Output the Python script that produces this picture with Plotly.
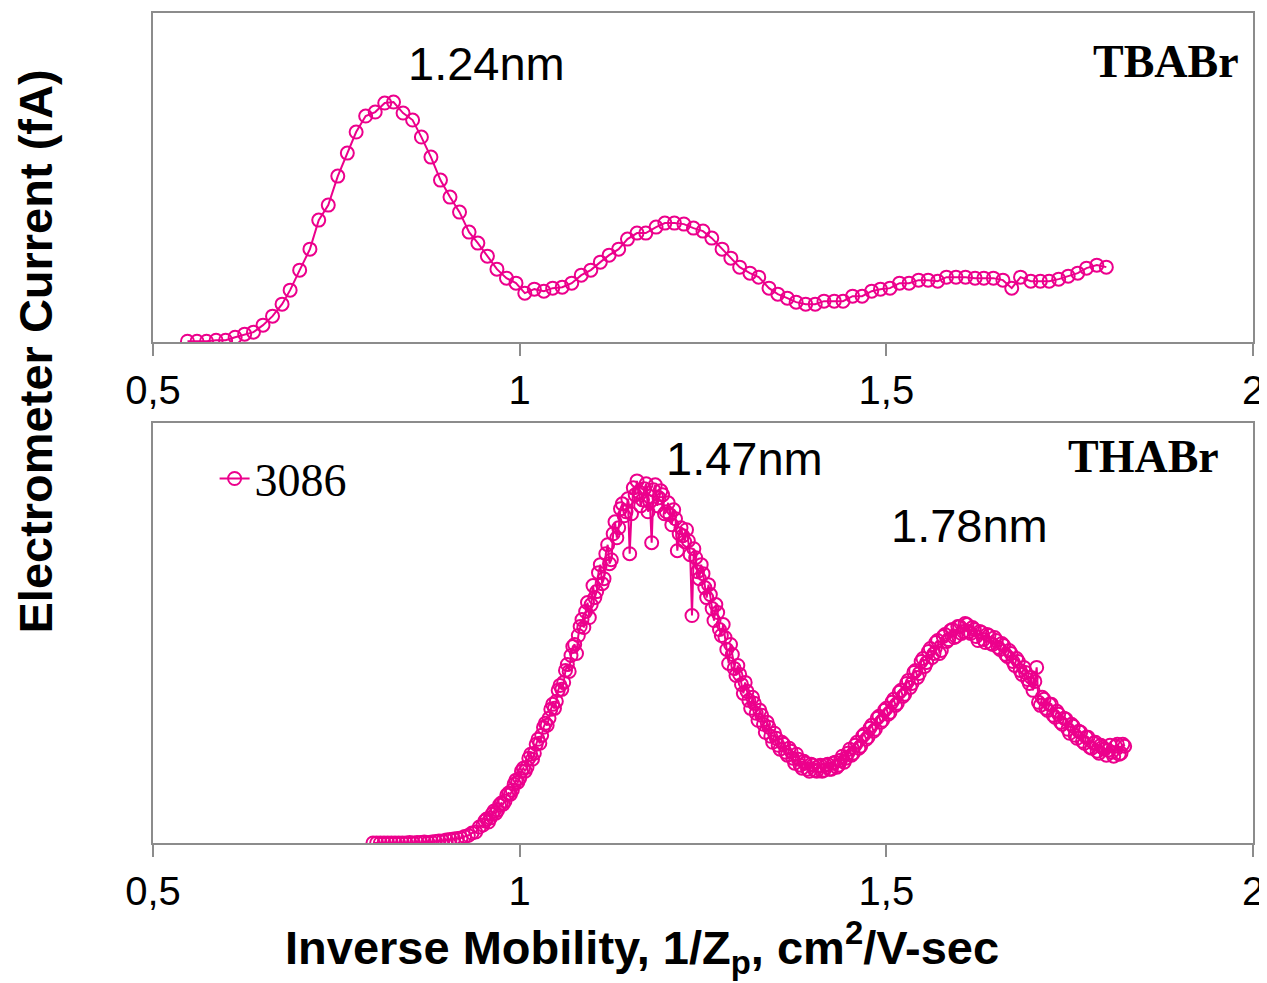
import plotly.graph_objects as go

# ---------------- data ----------------
# Top panel (TBABr)
top_x = [0.547,0.560,0.573,0.586,0.599,0.612,0.625,0.637,0.650,0.663,
         0.676,0.687,0.700,0.714,0.726,0.739,0.752,0.765,0.777,0.790,
         0.803,0.816,0.828,0.841,0.854,0.866,0.879,0.892,0.905,0.918,
         0.931,0.943,0.956,0.969,0.982,0.995,1.007,1.020,1.033,1.045,
         1.058,1.071,1.084,1.097,1.110,1.122,1.135,1.147,1.160,1.172,
         1.186,1.198,1.211,1.224,1.237,1.250,1.262,1.276,1.288,1.300,
         1.314,1.326,1.340,1.352,1.365,1.377,1.390,1.403,1.415,1.429,
         1.441,1.454,1.467,1.480,1.492,1.505,1.518,1.531,1.544,1.557,
         1.570,1.582,1.595,1.608,1.621,1.633,1.646,1.659,1.671,1.683,
         1.697,1.710,1.722,1.735,1.748,1.761,1.773,1.787,1.800]
top_y = [0.1,0.1,0.1,0.2,0.2,0.5,0.8,1.0,1.7,2.6,
         3.8,5.2,7.2,9.3,12.2,13.7,16.6,18.9,21.0,22.6,
         23.0,23.9,24.0,22.9,22.2,20.5,18.5,16.2,14.5,13.0,
         11.0,9.9,8.6,7.3,6.4,5.9,4.9,5.3,5.1,5.4,
         5.5,5.9,6.7,7.2,8.0,8.7,9.3,10.3,10.9,10.9,
         11.5,11.9,11.9,11.8,11.4,11.1,10.4,9.3,8.4,7.5,
         6.9,6.5,5.4,4.8,4.4,4.0,3.8,3.8,4.1,4.1,
         4.1,4.6,4.6,5.1,5.3,5.4,5.9,5.9,6.2,6.2,
         6.1,6.5,6.5,6.5,6.4,6.4,6.4,6.2,5.4,6.5,
         6.1,6.1,6.1,6.3,6.6,6.9,7.4,7.7,7.5]

# Bottom panel (THABr), series "3086" - scan points
bot_x = [0.800,0.805,0.810,0.815,0.820,0.825,0.830,0.835,0.840,0.845,
         0.850,0.855,0.860,0.865,0.870,0.875,0.880,0.885,0.890,0.895,
         0.900,0.905,0.910,0.915,0.920,0.925,0.930,0.935,0.940,0.945,
         0.950,0.955,0.960,0.965,0.970,0.975,0.980,0.985,0.990,0.995,
         1.000,1.005,1.010,1.015,1.020,1.025,1.030,1.035,1.040,1.045,
         1.050,1.055,1.060,1.065,1.070,1.075,1.080,1.085,1.090,1.095,
         1.100,1.105,1.110,1.115,1.120,1.125,1.130,1.135,1.140,1.145,
         1.150,1.155,1.160,1.165,1.170,1.175,1.180,1.185,1.190,1.195,
         1.200,1.205,1.210,1.215,1.220,1.225,1.230,1.235,1.240,1.245,
         1.250,1.255,1.260,1.265,1.270,1.275,1.280,1.285,1.290,1.295,
         1.300,1.305,1.310,1.315,1.320,1.325,1.330,1.335,1.340,1.345,
         1.350,1.355,1.360,1.365,1.370,1.375,1.380,1.385,1.390,1.395,
         1.400,1.405,1.410,1.415,1.420,1.425,1.430,1.435,1.440,1.445,
         1.450,1.455,1.460,1.465,1.470,1.475,1.480,1.485,1.490,1.495,
         1.500,1.505,1.510,1.515,1.520,1.525,1.530,1.535,1.540,1.545,
         1.550,1.555,1.560,1.565,1.570,1.575,1.580,1.585,1.590,1.595,
         1.600,1.605,1.610,1.615,1.620,1.625,1.630,1.635,1.640,1.645,
         1.650,1.655,1.660,1.665,1.670,1.675,1.680,1.685,1.690,1.695,
         1.700,1.705,1.710,1.715,1.720,1.725,1.730,1.735,1.740,1.745,
         1.750,1.755,1.760,1.765,1.770,1.775,1.780,1.785,1.790,1.795,
         1.800,1.805,1.810,1.815,1.820,1.825]
bot_y = [0.0,0.0,0.0,0.0,0.0,0.0,0.0,0.0,0.0,0.0,
         0.05,0.0,0.05,0.05,0.1,0.05,0.1,0.15,0.2,0.2,
         0.3,0.35,0.4,0.45,0.5,0.65,0.75,1.0,1.1,1.6,
         1.8,2.4,2.5,3.2,3.3,4.0,4.2,5.0,5.3,6.3,
         6.5,7.5,7.6,8.9,9.0,10.4,10.8,12.0,12.5,13.9,
         14.2,15.8,16.1,17.9,18.8,19.9,20.8,22.4,23.2,22.6,
         25.8,25.2,27.9,26.5,29.9,28.4,32.2,31.6,34.0,33.2,
         29.0,35.6,36.3,33.8,35.5,33.2,30.1,35.9,34.6,34.9,
         33.2,32.9,33.4,29.3,31.6,30.2,30.3,22.8,28.6,26.5,
         27.0,24.6,24.9,22.3,23.1,20.8,20.6,18.0,18.9,16.8,
         16.9,15.0,15.2,13.5,14.0,12.3,12.8,11.1,11.6,10.1,
         10.5,9.4,9.9,8.8,9.2,8.0,8.4,7.5,8.0,7.2,
         7.8,7.2,7.8,7.3,7.9,7.4,8.1,7.8,8.7,8.5,
         9.4,9.0,10.1,9.7,10.9,10.6,11.8,11.4,12.7,12.3,
         13.5,13.1,14.4,14.0,15.3,14.9,16.3,16.0,17.3,17.0,
         18.5,18.1,19.5,19.0,20.3,19.3,20.9,20.4,21.4,20.7,
         21.7,21.2,21.9,21.0,21.4,20.3,21.1,20.1,20.8,19.9,
         20.3,19.4,19.8,18.7,19.0,17.8,18.2,16.9,17.1,16.0,
         15.3,17.6,13.8,14.4,13.3,13.9,12.6,12.9,11.9,12.4,
         11.0,11.7,10.5,11.1,10.0,10.6,9.5,10.1,9.0,9.6,
         8.8,9.8,8.7,9.9,9.0,9.7]

# Bottom panel, interleaved scan points (half-step positions)
bot_mid_x = [0.9525,0.9575,0.9625,0.9675,0.9725,0.9775,0.9825,0.9875,0.9925,0.9975,
             1.0025,1.0075,1.0125,1.0175,1.0225,1.0275,1.0325,1.0375,1.0425,1.0475,
             1.0525,1.0575,1.0625,1.0675,1.0725,1.0775,1.0825,1.0875,1.0925,1.0975,
             1.1025,1.1075,1.1125,1.1175,1.1225,1.1275,1.1325,1.1375,1.1425,1.1475,
             1.1525,1.1575,1.1625,1.1675,1.1725,1.1775,1.1825,1.1875,1.1925,1.1975,
             1.2025,1.2075,1.2125,1.2175,1.2225,1.2275,1.2325,1.2375,1.2425,1.2475,
             1.2525,1.2575,1.2625,1.2675,1.2725,1.2775,1.2825,1.2875,1.2925,1.2975,
             1.3025,1.3075,1.3125,1.3175,1.3225,1.3275,1.3325,1.3375,1.3425,1.3475,
             1.3525,1.3575,1.3625,1.3675,1.3725,1.3775,1.3825,1.3875,1.3925,1.3975,
             1.4025,1.4075,1.4125,1.4175,1.4225,1.4275,1.4325,1.4375,1.4425,1.4475,
             1.4525,1.4575,1.4625,1.4675,1.4725,1.4775,1.4825,1.4875,1.4925,1.4975,
             1.5025,1.5075,1.5125,1.5175,1.5225,1.5275,1.5325,1.5375,1.5425,1.5475,
             1.5525,1.5575,1.5625,1.5675,1.5725,1.5775,1.5825,1.5875,1.5925,1.5975,
             1.6025,1.6075,1.6125,1.6175,1.6225,1.6275,1.6325,1.6375,1.6425,1.6475,
             1.6525,1.6575,1.6625,1.6675,1.6725,1.6775,1.6825,1.6875,1.6925,1.6975,
             1.7025,1.7075,1.7125,1.7175,1.7225,1.7275,1.7325,1.7375,1.7425,1.7475,
             1.7525,1.7575,1.7625,1.7675,1.7725,1.7775,1.7825,1.7875,1.7925,1.7975,
             1.8025,1.8075,1.8125,1.8175,1.8225]
bot_mid_y = [2.2,2.1,2.9,3.0,3.8,3.9,4.8,4.9,5.9,6.1,
             7.2,7.2,8.5,8.4,9.9,10.0,11.6,11.8,13.4,13.5,
             15.3,15.4,17.3,17.2,19.7,19.0,21.7,21.6,24.1,23.9,
             24.6,27.1,26.0,29.0,28.0,31.0,30.6,33.5,32.8,34.5,
             33.0,34.9,35.2,34.4,36.0,34.2,35.4,33.8,35.3,33.0,
             34.1,31.9,32.5,31.0,30.8,31.4,28.9,29.5,27.2,27.9,
             25.6,25.9,23.5,23.9,21.4,21.9,19.4,19.9,17.5,17.8,
             15.9,16.1,14.3,14.6,13.0,13.3,11.9,12.1,10.7,11.0,
             9.8,10.1,9.1,9.5,8.5,8.9,7.8,8.2,7.4,7.9,
             7.3,7.7,7.2,7.8,7.4,8.0,7.6,8.3,8.1,9.0,
             8.8,9.8,9.5,10.7,10.4,11.5,11.2,12.5,12.1,13.3,
             12.9,14.1,13.8,15.1,14.7,16.0,15.6,17.1,16.6,18.2,
             17.7,19.2,18.6,20.1,19.0,20.7,20.2,21.3,20.6,21.7,
             21.0,22.0,21.2,21.6,20.7,21.2,20.4,20.9,20.0,20.6,
             19.6,20.0,18.9,19.3,18.2,18.5,17.3,17.6,16.4,16.6,
             16.2,14.1,14.6,13.5,13.9,12.8,13.2,12.1,12.5,11.4,
             11.9,10.8,11.2,10.2,10.6,9.6,10.0,9.2,9.8,9.4,
             9.3,9.1,9.7,8.9,9.9]

tick_vals = [0.5, 1, 1.5, 2]
tick_text = ["0,5", "1", "1,5", "2"]
series_name = "3086"

# merge the bottom scan into one x-ordered series
pairs = sorted(zip(bot_x + bot_mid_x, bot_y + bot_mid_y), key=lambda p: p[0])
bx = [p[0] for p in pairs]
by = [p[1] for p in pairs]

# ---------------- styling ----------------
MAG = "#EC008C"
GRAY = "#8C8C8C"
SANS = "Liberation Sans, Arial, sans-serif"
SERIF = "Liberation Serif, Times New Roman, serif"

fig = go.Figure()
fig.add_trace(go.Scatter(
    x=top_x, y=top_y, mode="lines+markers", xaxis="x", yaxis="y",
    line=dict(color=MAG, width=2),
    marker=dict(symbol="circle-open", size=13, color=MAG, line=dict(width=2)),
    showlegend=False))
fig.add_trace(go.Scatter(
    x=bx, y=by, mode="lines+markers", xaxis="x2", yaxis="y2",
    name=series_name,
    line=dict(color=MAG, width=2),
    marker=dict(symbol="circle-open", size=13, color=MAG, line=dict(width=2)),
    showlegend=True))

xcommon = dict(range=[0.5, 2], tickvals=tick_vals, ticktext=tick_text,
               ticks="outside", ticklen=12, tickwidth=2, tickcolor=GRAY,
               showline=True, linecolor=GRAY, linewidth=2, mirror=True,
               showgrid=False, zeroline=False,
               tickfont=dict(family=SANS, size=40, color="black"))
ycommon = dict(showticklabels=False, ticks="", showline=True, linecolor=GRAY,
               linewidth=2, mirror=True, showgrid=False, zeroline=False)

fig.update_layout(
    width=1267, height=975,
    paper_bgcolor="white", plot_bgcolor="white",
    margin=dict(l=145, r=22, t=3, b=140),
    xaxis=dict(domain=[0, 1], anchor="y", **xcommon),
    yaxis=dict(domain=[0.6034, 1], range=[0, 32.9], anchor="x", **ycommon),
    xaxis2=dict(domain=[0, 1], anchor="y2", **xcommon),
    yaxis2=dict(domain=[0, 0.5066], range=[0, 42.15], anchor="x2", **ycommon),
    legend=dict(x=0.056, y=0.483, xanchor="left", yanchor="top",
                bgcolor="rgba(0,0,0,0)",
                font=dict(family=SERIF, size=46, color="black")),
)

ann = []
ann.append(dict(x=0.955, y=27.9, xref="x", yref="y", text="1.24nm", showarrow=False,
                font=dict(family=SANS, size=47, color="black")))
ann.append(dict(x=1.307, y=38.5, xref="x2", yref="y2", text="1.47nm", showarrow=False,
                font=dict(family=SANS, size=47, color="black")))
ann.append(dict(x=1.614, y=31.8, xref="x2", yref="y2", text="1.78nm", showarrow=False,
                font=dict(family=SANS, size=47, color="black")))
ann.append(dict(x=0.989, y=28.1, xref="paper", yref="y", xanchor="right",
                text="<b>TBABr</b>", showarrow=False,
                font=dict(family=SERIF, size=46, color="black")))
ann.append(dict(x=0.971, y=38.7, xref="paper", yref="y2", xanchor="right",
                text="<b>THABr</b>", showarrow=False,
                font=dict(family=SERIF, size=46, color="black")))
ann.append(dict(x=-0.107, y=0.5925, xref="paper", yref="paper", textangle=-90,
                xanchor="center", yanchor="middle",
                text="<b>Electrometer Current (fA)</b>", showarrow=False,
                font=dict(family=SANS, size=47, color="black")))
ann.append(dict(x=0.4445, y=-0.126, xref="paper", yref="paper",
                xanchor="center", yanchor="middle",
                text="<b>Inverse Mobility, 1/Z<sub>p</sub>, cm<sup>2</sup>/V-sec</b>",
                showarrow=False,
                font=dict(family=SANS, size=47, color="black")))
fig.update_layout(annotations=ann)

fig.write_html("out.html")
